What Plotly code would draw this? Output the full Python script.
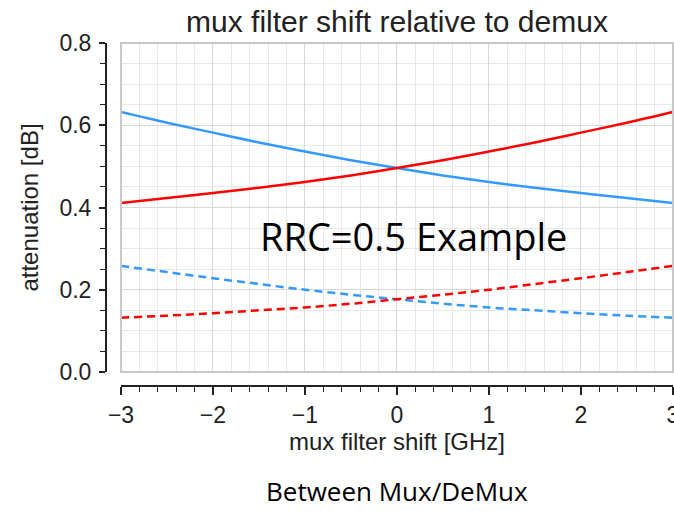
import plotly.graph_objects as go

# ---- data ----
shift_ghz = [-3, -2.5, -2, -1.5, -1, -0.5, 0, 0.5, 1, 1.5, 2, 2.5, 3]
blue_solid = [0.632, 0.606, 0.582, 0.558, 0.536, 0.515, 0.496, 0.478, 0.462, 0.448, 0.435, 0.423, 0.411]
red_solid = [0.411, 0.423, 0.435, 0.448, 0.462, 0.478, 0.496, 0.515, 0.536, 0.558, 0.582, 0.606, 0.632]
blue_dash = [0.258, 0.243, 0.228, 0.214, 0.200, 0.188, 0.177, 0.166, 0.157, 0.150, 0.143, 0.137, 0.132]
red_dash = [0.132, 0.137, 0.143, 0.150, 0.157, 0.166, 0.177, 0.188, 0.200, 0.214, 0.228, 0.243, 0.258]

x_ticks = [-3, -2, -1, 0, 1, 2, 3]
y_ticks = [0.0, 0.2, 0.4, 0.6, 0.8]

BLUE = "#3399ff"
RED = "#ff0000"
AX_FONT = "Liberation Sans, Arial, sans-serif"
NOTE_FONT = "Open Sans, Noto Sans, sans-serif"

fig = go.Figure()
for ys, col, dash in [(blue_solid, BLUE, "solid"), (red_solid, RED, "solid"),
                      (blue_dash, BLUE, "8px,5px"), (red_dash, RED, "8px,5px")]:
    fig.add_trace(go.Scatter(x=shift_ghz, y=ys, mode="lines",
                             line=dict(color=col, width=2.5, dash=dash, shape="spline"),
                             showlegend=False, hoverinfo="skip"))

W, H = 674, 511
ml, mr, mt, mb = 100, 1, 43, 121
pw = W - ml - mr
ph = H - mt - mb
paper_bottom = mt + ph

fig.update_layout(
    width=W, height=H,
    margin=dict(l=ml, r=mr, t=mt, b=mb, autoexpand=False),
    paper_bgcolor="white", plot_bgcolor="white",
    title=dict(text="mux filter shift relative to demux", x=(397 - ml) / pw, xanchor="center",
               y=1 - 21 / H, yanchor="middle", xref="paper", yref="container",
               font=dict(family=AX_FONT, size=30, color="#222222")),
    xaxis=dict(domain=[21 / pw, 1], range=[-3, 3.002], anchor="free", position=4 / ph,
               automargin=False,
               tickvals=x_ticks, ticks="outside", ticklen=8, tickwidth=1.5, tickcolor="#222222",
               ticklabeloverflow="allow",
               showline=True, linecolor="#222222", linewidth=2,
               showgrid=True, gridcolor="#d8d8d8", gridwidth=1.2, zeroline=False,
               minor=dict(dtick=0.2, ticks="outside", ticklen=5, tickwidth=1.2, tickcolor="#222222",
                          showgrid=True, gridcolor="#e8e8e8", gridwidth=1),
               tickfont=dict(family=AX_FONT, size=23, color="#222222"),
               title=dict(text="mux filter shift [GHz]", standoff=6,
                          font=dict(family=AX_FONT, size=24, color="#222222"))),
    yaxis=dict(domain=[18 / ph, 1], range=[0, 0.8], anchor="free", position=6 / pw,
               automargin=False,
               tickvals=y_ticks, tickformat=".1f", ticks="outside", ticklen=6, tickwidth=1.5,
               tickcolor="#222222",
               showline=True, linecolor="#222222", linewidth=2,
               showgrid=True, gridcolor="#d8d8d8", gridwidth=1.2, zeroline=False,
               minor=dict(dtick=0.05, ticks="outside", ticklen=5, tickwidth=1.2, tickcolor="#222222",
                          showgrid=True, gridcolor="#e8e8e8", gridwidth=1),
               tickfont=dict(family=AX_FONT, size=23, color="#222222"),
               ticklabelstandoff=3,
               title=dict(text="attenuation [dB]", standoff=13,
                          font=dict(family=AX_FONT, size=24, color="#222222"))),
)

# plot frame
fig.add_shape(type="rect", xref="x domain", yref="y domain", x0=0, x1=1, y0=0, y1=1,
              line=dict(color="#c8c8c8", width=2), layer="above")

fig.add_annotation(text="RRC=0.5 Example", x=0.185, y=0.33, xref="x", yref="y",
                   showarrow=False, xanchor="center", yanchor="middle",
                   font=dict(family=NOTE_FONT, size=38, color="black"))
fig.add_annotation(text="Between Mux/DeMux", x=0, y=(paper_bottom - 491) / ph, xref="x", yref="paper",
                   yanchor="middle", showarrow=False, xanchor="center",
                   font=dict(family=NOTE_FONT, size=26, color="black"))

fig.write_html("out.html")
